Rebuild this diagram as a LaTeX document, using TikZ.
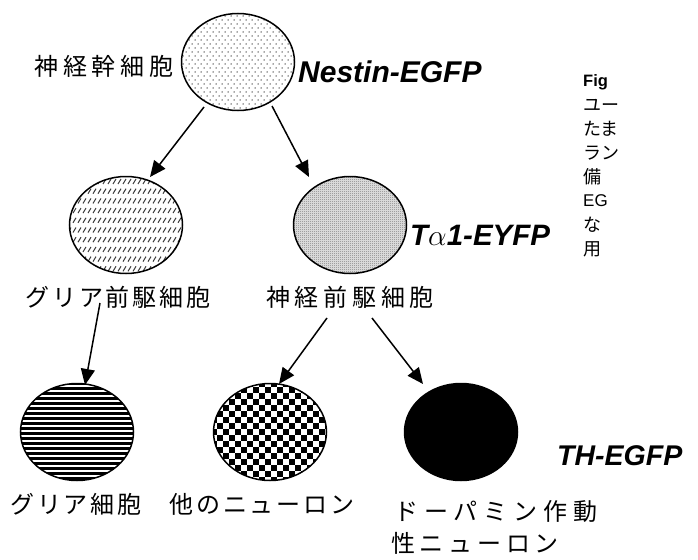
\documentclass[tikz,border=0pt]{standalone}
\usepackage{fix-cm}
\usepackage{fontspec}
\setmainfont{Liberation Sans}
\newfontfamily\jpA[LetterSpace=12]{Noto Sans CJK JP}
\newfontfamily\jpB[LetterSpace=20]{Noto Sans CJK JP}
\newfontfamily\jpC[LetterSpace=25]{Noto Sans CJK JP}
\newfontfamily\jpS{Noto Sans CJK JP}
\usetikzlibrary{shapes.geometric,patterns,arrows.meta}

\pgfdeclarepatternformonly{finegrid}{\pgfqpoint{0pt}{0pt}}{\pgfqpoint{2.4pt}{2.4pt}}{\pgfqpoint{2.4pt}{2.4pt}}{%
  \pgfpathrectangle{\pgfqpoint{0pt}{0pt}}{\pgfqpoint{1.2pt}{1.2pt}}\pgfusepath{fill}}

\begin{document}
\begin{tikzpicture}[x=1pt,y=-1pt,
  cell/.style={ellipse, draw=black, line width=1.5pt, inner sep=0pt,
               minimum width=113pt, minimum height=97pt},
  arr/.style={line width=1.5pt, -{Triangle[length=16pt,width=14pt]}},
  jlab/.style={inner sep=0pt, font=\jpA\fontsize{24}{28}\selectfont},
  gene/.style={inner sep=0pt, anchor=base west, font=\bfseries\itshape\fontsize{29.5}{34}\selectfont},
  side/.style={inner sep=0pt, anchor=west, font=\jpS\fontsize{18}{21}\selectfont}]
\path[use as bounding box] (0,0) rectangle (698,559);

% ---- cell fillings (clipped to the ellipses) ----
% neural stem cell: sparse staggered dots
\begin{scope}
  \clip (238,62) ellipse [x radius=56.5pt, y radius=48.5pt];
  \foreach \j in {0,...,25} {
    \pgfmathsetmacro\off{mod(\j,2)*3}
    \foreach \k in {0,...,20}
      \fill[gray!60!black] (180+\off+6*\k, 12+4*\j) circle[radius=0.75pt];
  }
\end{scope}
% glial precursor: rows of short slashes
\begin{scope}
  \clip (126,225) ellipse [x radius=56.5pt, y radius=48.5pt];
  \foreach \r in {0,...,10}
    \foreach \k in {0,...,24}
      \draw[gray!45!black, line width=1pt] (68+5*\k, 184+9.7*\r) -- ++(3,-5);
\end{scope}
% glial cell: horizontal stripes
\begin{scope}
  \clip (77,432) ellipse [x radius=56.5pt, y radius=48.5pt];
  \foreach \j in {0,...,20}
    \fill[black] (18,382+5*\j) rectangle ++(120,3);
\end{scope}
% other neurons: checkerboard
\begin{scope}
  \clip (270,432) ellipse [x radius=56.5pt, y radius=48.5pt];
  \foreach \j in {0,...,17} {
    \pgfmathsetmacro\off{mod(\j,2)*6}
    \foreach \k in {0,...,10}
      \fill[black] (211+\off+12*\k, 381+6*\j) rectangle ++(6,6);
  }
\end{scope}

% ---- cells ----
\node[cell] (stem) at (238,62) {};
\node[cell] (gpre) at (126,225) {};
\node[cell, preaction={fill=gray!30}, pattern=finegrid, pattern color=gray!75] (npre) at (350,225) {};
\node[cell] (glia) at (77,432) {};
\node[cell] (oth) at (270,432) {};
\node[cell, fill=black] (dop) at (461,432) {};

% ---- labels ----
\node[jlab, font=\jpB\fontsize{24}{28}\selectfont] (lstem) at (104,66) {神経幹細胞};
\node[jlab] (lgpre) at (118,297) {グリア前駆細胞};
\node[jlab, font=\jpB\fontsize{24}{28}\selectfont] (lnpre) at (350,297) {神経前駆細胞};
\node[jlab] (lglia) at (76,504) {グリア細胞};
\node[jlab] (loth) at (262,504) {他のニューロン};
\node[jlab, font=\jpC\fontsize{24}{28}\selectfont] (ldop1) at (496,511) {ドーパミン作動};
\node[jlab, font=\jpB\fontsize{24}{28}\selectfont] (ldop2) at (475,543) {性ニューロン};

% ---- gene names ----
\node[gene, font=\bfseries\itshape\fontsize{30}{35}\selectfont] (nes) at (298,83) {Nestin-EGFP};
\node[gene] (ta1) at (410,245) {T$\alpha$1-EYFP};
\node[gene, font=\bfseries\itshape\fontsize{28.5}{33}\selectfont] (th) at (557,465) {TH-EGFP};

% ---- clipped side text ----
\begin{scope}
  \clip (575,60) rectangle (617,270);
  \node[inner sep=0pt, anchor=west, font=\bfseries\fontsize{16.5}{19}\selectfont] (s0) at (583,82) {Fig};
  \node[side] (s1) at (583,105) {ユー};
  \node[side] (s2) at (583,129) {たま};
  \node[side] (s3) at (583,153) {ラン};
  \node[side] (s4) at (583,177) {備};
  \node[inner sep=0pt, anchor=west, font=\fontsize{17}{20}\selectfont] (s5) at (583,201) {EG};
  \node[side] (s6) at (583,225) {な};
  \node[side] (s7) at (583,249) {用};
\end{scope}

% ---- arrows ----
\coordinate (a1s) at (204,107); \coordinate (a1e) at (150,177);
\coordinate (a2s) at (272,106); \coordinate (a2e) at (309,177);
\coordinate (a3s) at (100,303); \coordinate (a3e) at (85,385);
\coordinate (a4s) at (327,318); \coordinate (a4e) at (279,384);
\coordinate (a5s) at (372,318); \coordinate (a5e) at (423,384);
\draw[arr] (a1s) -- (a1e);
\draw[arr] (a2s) -- (a2e);
\draw[arr] (a3s) -- (a3e);
\draw[arr] (a4s) -- (a4e);
\draw[arr] (a5s) -- (a5e);
\end{tikzpicture}
\end{document}
